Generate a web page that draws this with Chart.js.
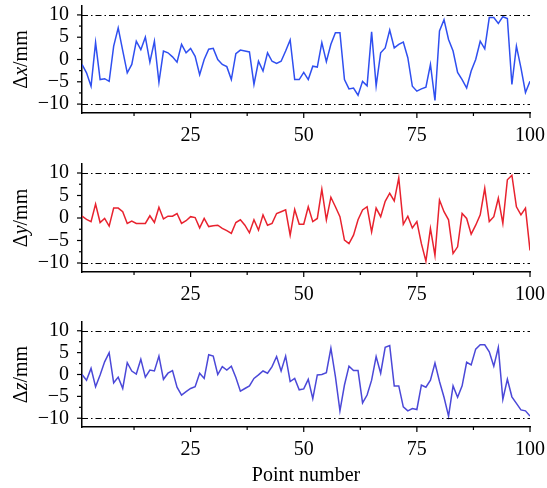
<!DOCTYPE html>
<html>
<head>
<meta charset="utf-8">
<script src="https://cdn.jsdelivr.net/npm/chart.js@4"></script>
<style>
  body { margin: 0; background: #fff; }
  #wrap { position: relative; width: 547px; height: 488px; }
  .panel { position: absolute; left: 0; width: 547px; }
</style>
</head>
<body>
<div id="wrap">
  <div class="panel" style="top:0px;height:150px"><canvas id="dx"></canvas></div>
  <div class="panel" style="top:155px;height:155px"><canvas id="dy"></canvas></div>
  <div class="panel" style="top:312px;height:176px"><canvas id="dz"></canvas></div>
</div>
<script>
// point numbers 1..100
const pointNumbers = Array.from({ length: 100 }, (_, i) => i + 1);

const deltaX = [
  -1.1, -3, -6, 3.8, -4.5, -4.3, -4.9, 3, 7.1, 2,
  -3, -1.1, 4.1, 2.2, 5, -0.6, 4.1, -5.1, 1.9, 1.5,
  0.6, -0.6, 3.4, 1.5, 2.5, 0.7, -3.4, 0, 2.3, 2.5,
  0, -1.1, -1.6, -4.5, 1.3, 2.1, 1.9, 1.7, -5.6, -0.4,
  -2.6, 1.5, -0.4, -0.9, -0.4, 1.9, 4.4, -4.5, -4.5, -2.9,
  -4.5, -1.5, -1.7, 3.8, -0.5, 3.4, 6, 6, -4.5, -6.6,
  -6.4, -8, -4.9, -5.9, 6.2, -5.9, 1.5, 2.6, 6.6, 2.6,
  3.4, 3.9, 0.4, -6, -7.1, -6.6, -6.2, -1.1, -9.2, 6.4,
  8.9, 4.5, 1.9, -2.9, -4.5, -6.4, -2.6, 0, 4.1, 2.4,
  9.4, 9.4, 8.1, 9.6, 9.2, -5.6, 3, -1.9, -7.4, -4.9
];

const deltaY = [
  0.4, -0.3, -0.8, 3.1, -1, -0.1, -1.8, 2.2, 2.2, 1.4,
  -1.2, -0.7, -1.2, -1.2, -1.2, 0.5, -1, 2.4, -0.2, 0.4,
  0.4, 1, -1.2, -0.6, 0.3, 0.1, -2.2, -0.1, -1.9, -1.7,
  -1.6, -2.3, -2.8, -3.4, -1, -0.4, -1.6, -3.3, -0.4, -2.7,
  0.7, -1.6, -1.2, 1, 1.4, 1.8, -3.8, 1.9, -1.4, -1.4,
  2.5, -0.8, -0.1, 6.4, -0.4, 4.6, 2.5, 0.3, -4.9, -5.7,
  -3.8, -0.4, 1.8, 2.5, -3.1, 2.2, 0.3, 3.7, 5.5, 3.8,
  8.9, -1.4, 0.4, -2.2, -0.8, -5.7, -9.6, -2.3, -8.3, 4,
  1.4, -0.4, -7.9, -6.4, 1, -0.1, -3.6, -1.6, 0.7, 6.6,
  -0.8, 0.3, 4.4, -1.2, 8.5, 9.5, 2.5, 0.7, 2.2, -7.2
];

const deltaZ = [
  0, -1.3, 1.4, -2.8, -0.1, 2.9, 5, -1.9, -0.6, -3.2,
  2.7, 0.8, 0.1, 3.5, -0.6, 1, 0.8, 4.2, -1.1, 0.3,
  0.9, -2.9, -4.7, -3.9, -3.2, -2.8, 0.3, -0.9, 4.5, 4.2,
  0, 1.8, 1, 1.9, -0.7, -3.8, -3.2, -2.6, -0.9, -0.1,
  0.8, 0.3, 1.8, 4.1, 0.8, 4.2, -1.6, -0.9, -3.5, -3.3,
  -1.1, -5.5, -0.1, 0, 0.4, 6, -0.5, -8.3, -2.4, 1.9,
  0.9, 0.9, -6.5, -4.7, -1.3, 4.1, 0.3, 6.2, 6.6, -2.6,
  -2.6, -7.4, -8.3, -7.8, -8, -2.4, -2.9, -1.3, 2.6, -1.6,
  -5.2, -9.5, -2.6, -5.2, -2.6, 2.8, 2.2, 5.8, 6.8, 6.8,
  5.2, 1.9, 6.2, -5.7, -1.1, -5.1, -6.6, -8.1, -8.3, -9.5
];

const limitLines = [-10, 10];
const xTickValues = [12.5, 25, 37.5, 50, 62.5, 75, 87.5, 100];
const yTickValues = [-10, -7.5, -5, -2.5, 0, 2.5, 5, 7.5, 10];

const serif = '"Liberation Serif", "Times New Roman", serif';

// dash-dot limits, tick marks and the mixed-style y title
const decor = {
  id: 'decor',
  afterDraw(chart, args, opts) {
    const { ctx, chartArea, scales } = chart;
    const xs = scales.x, ys = scales.y;
    ctx.save();
    ctx.strokeStyle = '#000';
    ctx.lineWidth = 1;
    ctx.setLineDash([6, 3, 1.5, 3]);
    limitLines.forEach(v => {
      const y = Math.round(ys.getPixelForValue(v)) + 0.5;
      ctx.beginPath();
      ctx.moveTo(chartArea.left, y);
      ctx.lineTo(chartArea.right, y);
      ctx.stroke();
    });
    ctx.setLineDash([]);
    ctx.lineWidth = 1.2;
    xTickValues.forEach(v => {
      const x = xs.getPixelForValue(v);
      const len = v % 25 === 0 ? 5 : 3;
      ctx.beginPath();
      ctx.moveTo(x, chartArea.bottom);
      ctx.lineTo(x, chartArea.bottom + len);
      ctx.stroke();
    });
    yTickValues.forEach(v => {
      const y = ys.getPixelForValue(v);
      const len = v % 5 === 0 ? 5 : 3;
      ctx.beginPath();
      ctx.moveTo(chartArea.left, y);
      ctx.lineTo(chartArea.left - len, y);
      ctx.stroke();
    });
    // y title: Δ + italic letter + /mm
    ctx.translate(22, (chartArea.top + chartArea.bottom) / 2);
    ctx.rotate(-Math.PI / 2);
    ctx.fillStyle = '#000';
    ctx.textBaseline = 'middle';
    const parts = [
      ['20px ' + serif, 'Δ'],
      ['italic 20px ' + serif, opts.letter],
      ['20px ' + serif, '/mm']
    ];
    let total = 0;
    parts.forEach(p => { ctx.font = p[0]; total += ctx.measureText(p[1]).width; });
    let x = -total / 2;
    parts.forEach(p => {
      ctx.font = p[0];
      ctx.textAlign = 'left';
      ctx.fillText(p[1], x, 0);
      x += ctx.measureText(p[1]).width;
    });
    ctx.restore();
  }
};

function makePanel(id, letter, values, color, padTop, xHeight, showTitle) {
  new Chart(document.getElementById(id), {
    type: 'line',
    data: {
      datasets: [{
        data: values.map((v, i) => ({ x: pointNumbers[i], y: v })),
        borderColor: color,
        borderWidth: 1.5,
        pointRadius: 0,
        tension: 0
      }]
    },
    options: {
      responsive: true,
      maintainAspectRatio: false,
      animation: false,
      layout: { padding: { top: padTop, right: 17, left: 0, bottom: 0 } },
      plugins: {
        legend: { display: false },
        tooltip: { enabled: false },
        decor: { letter: letter }
      },
      scales: {
        x: {
          type: 'linear',
          min: 1,
          max: 100,
          grid: { display: false, drawTicks: false },
          border: { display: true, color: '#000', width: 1.5 },
          afterBuildTicks: s => { s.ticks = xTickValues.map(v => ({ value: v })); },
          afterFit: s => { s.height = xHeight; s.paddingLeft = 0; s.paddingRight = 0; },
          ticks: {
            autoSkip: false,
            maxRotation: 0,
            padding: 11,
            color: '#000',
            font: { family: serif, size: 20 },
            callback: v => (v % 25 === 0 ? String(v) : '')
          },
          title: {
            display: showTitle,
            text: 'Point number',
            color: '#000',
            font: { family: serif, size: 20 },
            padding: { top: 0, bottom: 0 }
          }
        },
        y: {
          min: -12,
          max: 12,
          grid: { display: false, drawTicks: false },
          border: { display: true, color: '#000', width: 1.5 },
          afterBuildTicks: s => { s.ticks = yTickValues.map(v => ({ value: v })); },
          afterFit: s => { s.width = 82; s.paddingTop = 0; s.paddingBottom = 0; },
          ticks: {
            autoSkip: false,
            padding: 13,
            color: '#000',
            font: { family: serif, size: 20 },
            callback: v => (v % 5 === 0 ? String(v).replace('-', '\u2212') : '')
          }
        }
      }
    },
    plugins: [decor]
  });
}

makePanel('dx', 'x', deltaX, '#2f4ff0', 6, 37, false);
makePanel('dy', 'y', deltaY, '#e8222e', 9, 38, false);
makePanel('dz', 'z', deltaZ, '#4b48d8', 10, 61, true);
</script>
</body>
</html>
